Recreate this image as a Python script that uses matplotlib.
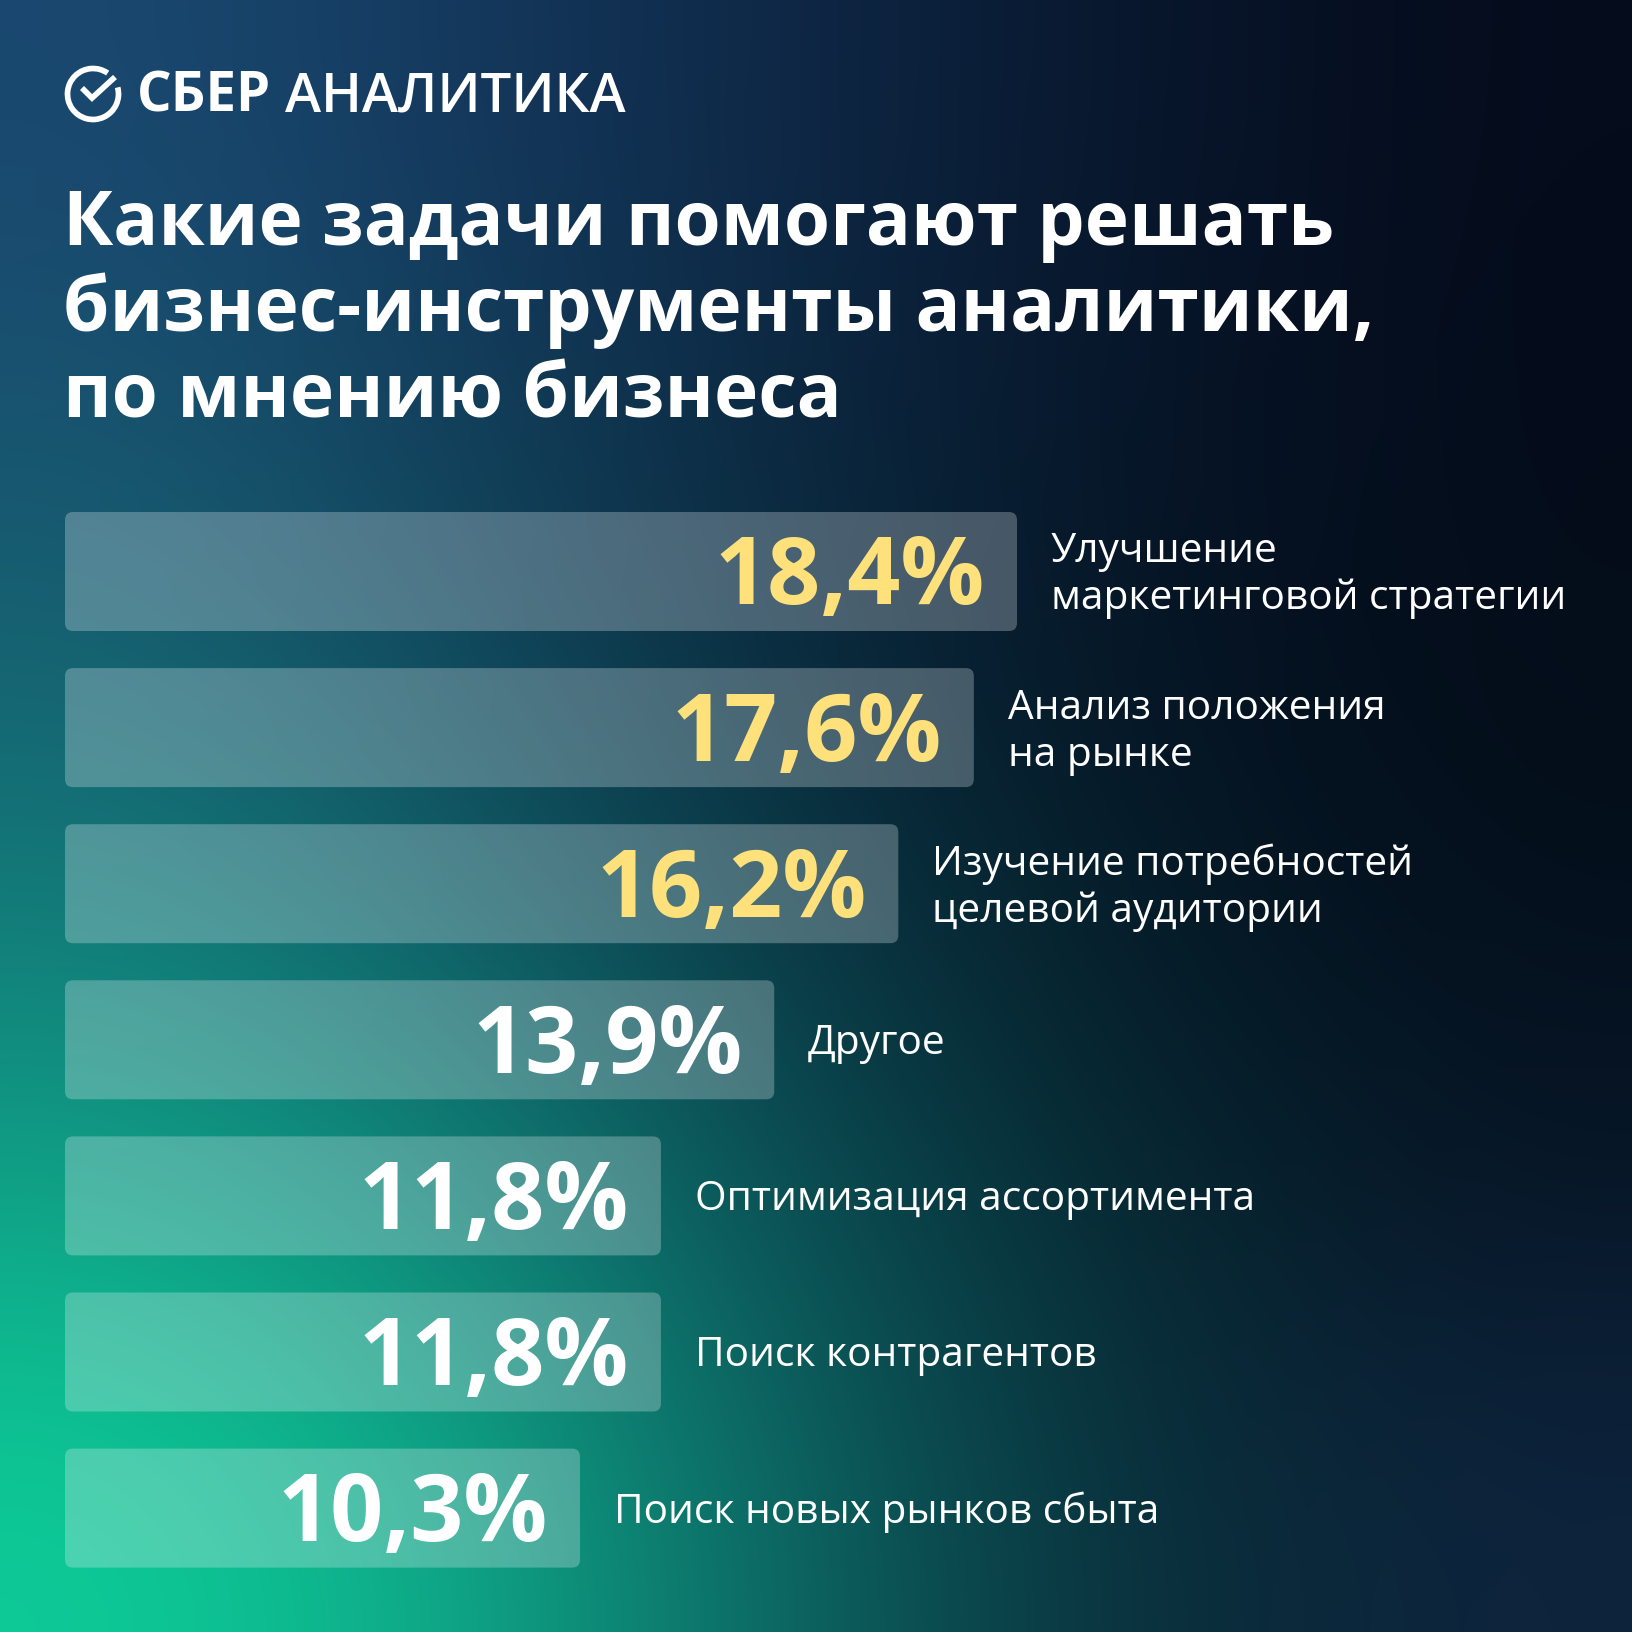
import numpy as np
import matplotlib
matplotlib.use("Agg")
import matplotlib.pyplot as plt
from matplotlib.patches import FancyBboxPatch, Arc
from matplotlib.lines import Line2D

# Data
Categories = ["Улучшение\nмаркетинговой стратегии",
              "Анализ положения\nна рынке",
              "Изучение потребностей\nцелевой аудитории",
              "Другое",
              "Оптимизация ассортимента",
              "Поиск контрагентов",
              "Поиск новых рынков сбыта"]
Values = [18.4, 17.6, 16.2, 13.9, 11.8, 11.8, 10.3]
Highlighted = [True, True, True, False, False, False, False]
Title = "Какие задачи помогают решать\nбизнес-инструменты аналитики,\nпо мнению бизнеса"

W = H = 1632
DPI = 100
PX = 72 / DPI  # points per pixel

# Layout (pixels) and scales
Bar_Base = 0.754              # bars start here, in value units
Px_Per_Unit = 53.95           # horizontal scale
Bar_Left_Px = 65
First_Center_Px = 571.5
Pitch_Px = 156.1
Bar_Height_Px = 119

Yellow = "#ffe17c"
Label_Font = "Open Sans"
Bold_Font = "Open Sans"

fig = plt.figure(figsize=(W / DPI, H / DPI), dpi=DPI)

# Background gradient from a coarse colour grid
bg_grid = np.array([
    [(26, 72, 112), (20, 55, 92), (14, 38, 68), (8, 22, 44), (5, 12, 28)],
    [(24, 88, 112), (17, 62, 88), (10, 38, 60), (6, 20, 38), (4, 12, 26)],
    [(20, 112, 118), (16, 80, 95), (9, 45, 60), (5, 22, 36), (4, 14, 26)],
    [(16, 155, 132), (15, 120, 115), (10, 70, 78), (6, 36, 46), (6, 20, 36)],
    [(13, 205, 152), (15, 165, 135), (12, 95, 95), (9, 45, 56), (14, 36, 62)],
]) / 255.0
bg_ax = fig.add_axes([0, 0, 1, 1])
bg_ax.imshow(bg_grid, extent=(0, W, H, 0), interpolation="bicubic", aspect="auto")
bg_ax.set_xlim(0, W)
bg_ax.set_ylim(H, 0)
bg_ax.axis("off")

# Bar axes: data coordinates mapped so bars land where they should
ax = fig.add_axes([0, 0, 1, 1])
ax.patch.set_alpha(0)
x0 = Bar_Base - Bar_Left_Px / Px_Per_Unit
ax.set_xlim(x0, x0 + W / Px_Per_Unit)
y_top = -First_Center_Px / Pitch_Px
ax.set_ylim(y_top + H / Pitch_Px, y_top)
ax.axis("off")

ypos = np.arange(len(Values))
bar_h = Bar_Height_Px / Pitch_Px
bars = ax.barh(ypos, np.array(Values) - Bar_Base, left=Bar_Base, height=bar_h, alpha=0)

r_x = 8 / Px_Per_Unit
aspect = (8 / Pitch_Px) / r_x
for rect in bars:
    box = FancyBboxPatch((rect.get_x(), rect.get_y()), rect.get_width(), rect.get_height(),
                         boxstyle=f"round,pad=0,rounding_size={r_x}", mutation_aspect=aspect,
                         facecolor=(0.93, 0.95, 0.97), alpha=0.28, edgecolor="none")
    ax.add_patch(box)

# Value labels inside the bars, category labels to the right
digit_h = 66
cap_h = 29
line_gap = 47
for i, (v, cat, hl) in enumerate(zip(Values, Categories, Highlighted)):
    txt = f"{v:.1f}".replace(".", ",") + "%"
    ax.annotate(txt, xy=(v, i), xytext=(-32 * PX, -digit_h / 2 * PX), textcoords="offset points",
                ha="right", va="baseline", fontsize=93 * PX, fontweight="bold",
                family=Bold_Font, color=Yellow if hl else "white")
    lines = cat.split("\n")
    n = len(lines)
    for k, line in enumerate(lines):
        dy = cap_h / 2 + (k - (n - 1) / 2) * line_gap
        ax.annotate(line, xy=(v, i), xytext=(34 * PX, -dy * PX), textcoords="offset points",
                    ha="left", va="baseline", fontsize=40.6 * PX, family=Label_Font, color="white")

# Overlay in pixel coordinates for header
ov = fig.add_axes([0, 0, 1, 1])
ov.patch.set_alpha(0)
ov.set_xlim(0, W)
ov.set_ylim(H, 0)
ov.axis("off")

# Logo icon
ov.add_patch(Arc((93, 94), 51, 51, theta1=-15, theta2=305, lw=5.7 * PX, color="white"))
ov.add_line(Line2D([82, 92, 115], [88, 98, 77], lw=5.7 * PX, color="white",
                   solid_capstyle="butt", solid_joinstyle="miter"))
ov.text(137, 112, "СБЕР", ha="left", va="baseline", fontsize=54.5 * PX, fontweight="bold",
        family=Bold_Font, color="white")
ov.text(285, 112, "АНАЛИТИКА", ha="left", va="baseline", fontsize=54.5 * PX,
        fontweight="semibold", family=Bold_Font, color="white")

# Title
for k, line in enumerate(Title.split("\n")):
    ov.text(63, 245 + k * 86, line, ha="left", va="baseline", fontsize=74.8 * PX,
            fontweight="bold", family=Bold_Font, color="white")

fig.savefig("out.png", dpi=DPI)
